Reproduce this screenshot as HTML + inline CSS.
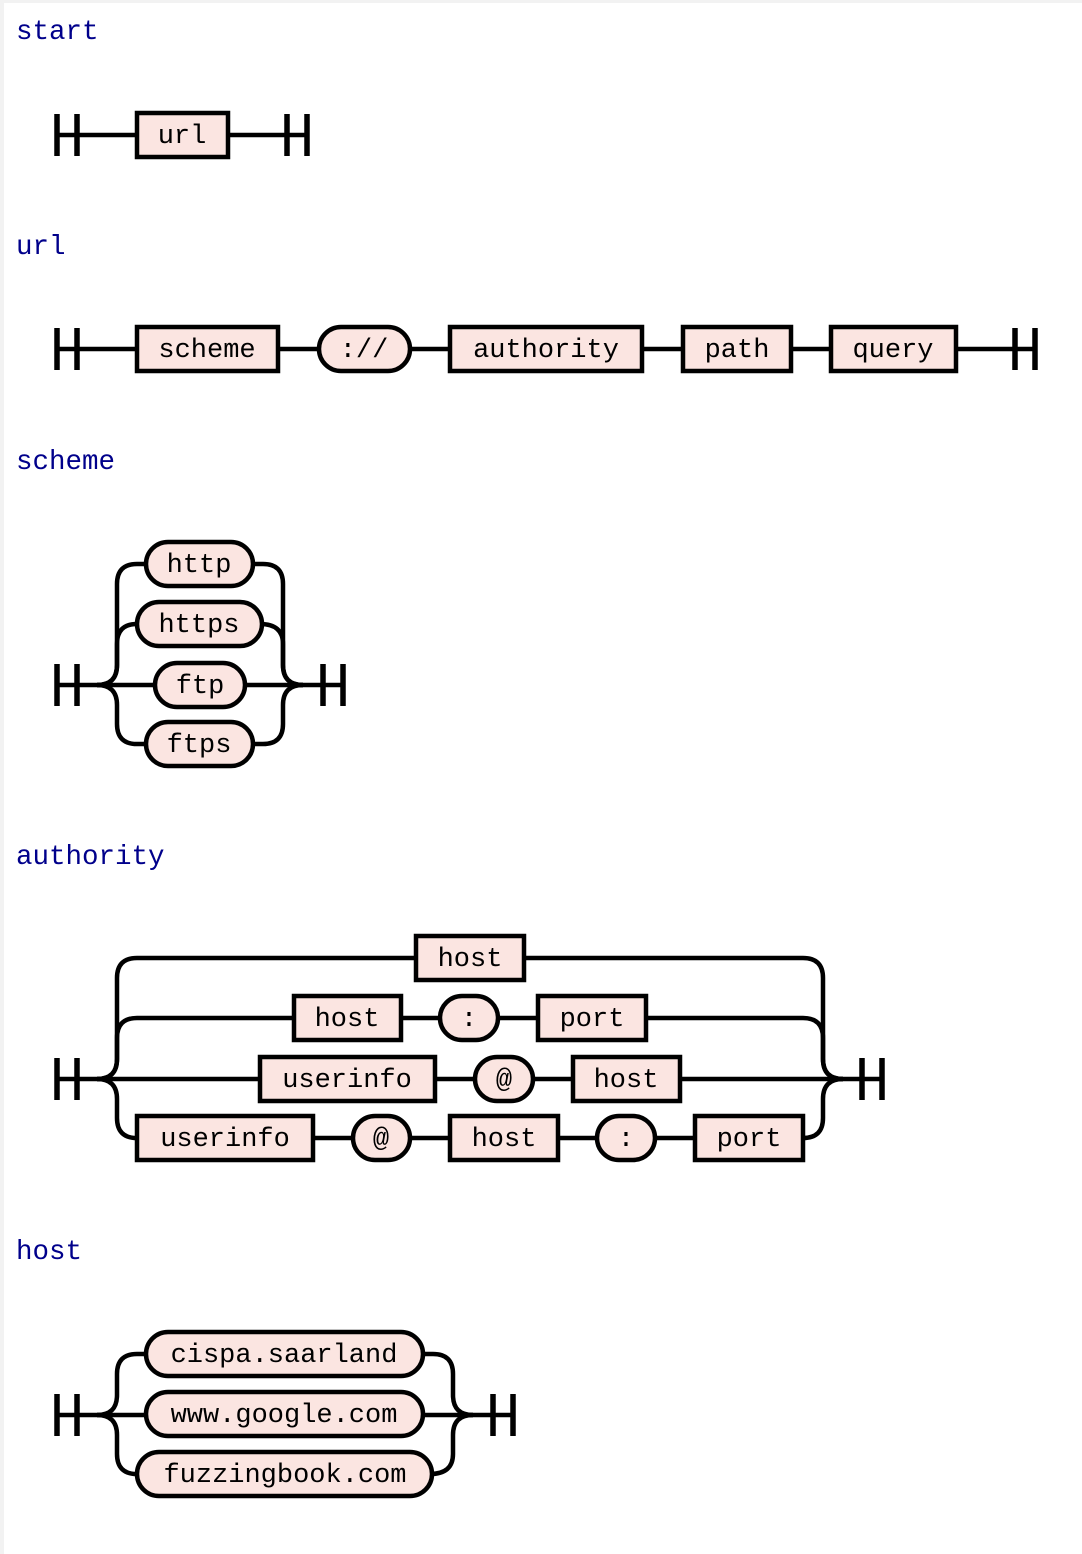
<!DOCTYPE html>
<html><head><meta charset="utf-8"><style>
html,body{margin:0;padding:0;background:#fff;}
body{width:1082px;height:1554px;overflow:hidden;}
svg{display:block;}
text{font-family:"Liberation Mono","DejaVu Sans Mono",monospace;font-size:27px;}
.t{fill:#000;text-anchor:middle;}
.h{fill:#00008b;font-size:27.5px;}
.l{fill:none;stroke:#000;stroke-width:4.5;}
.b{fill:#fbe5e1;stroke:#000;stroke-width:4.5;}
.bar{stroke:#000;stroke-width:5.5;}
</style></head><body>
<svg width="1082" height="1554" viewBox="0 0 1082 1554" xmlns="http://www.w3.org/2000/svg">
<rect x="0" y="0" width="1082" height="3" fill="#f2f2f2"/>
<rect x="0" y="0" width="4" height="1554" fill="#f2f2f2"/>

<!-- start -->
<text class="h" x="16" y="39">start</text>
<line class="bar" x1="57" y1="114" x2="57" y2="156"/><line class="bar" x1="77" y1="114" x2="77" y2="156"/>
<line class="l" x1="57" y1="135" x2="137" y2="135"/>
<line class="l" x1="228" y1="135" x2="309" y2="135"/>
<line class="bar" x1="287" y1="114" x2="287" y2="156"/><line class="bar" x1="307" y1="114" x2="307" y2="156"/>
<rect class="b" x="137" y="113" width="91" height="44"/><text class="t" x="182" y="143">url</text>

<!-- url -->
<text class="h" x="16" y="254">url</text>
<line class="bar" x1="57" y1="328" x2="57" y2="370"/><line class="bar" x1="77" y1="328" x2="77" y2="370"/>
<line class="bar" x1="1015" y1="328" x2="1015" y2="370"/><line class="bar" x1="1035" y1="328" x2="1035" y2="370"/>
<line class="l" x1="57" y1="349" x2="1037" y2="349"/>
<rect class="b" x="137" y="327" width="141" height="44"/><text class="t" x="207" y="357">scheme</text>
<rect class="b" x="319" y="327" width="91" height="44" rx="22"/><text class="t" x="364" y="357">://</text>
<rect class="b" x="450" y="327" width="192" height="44"/><text class="t" x="546" y="357">authority</text>
<rect class="b" x="683" y="327" width="108" height="44"/><text class="t" x="737" y="357">path</text>
<rect class="b" x="831" y="327" width="125" height="44"/><text class="t" x="893" y="357">query</text>

<!-- scheme -->
<text class="h" x="16" y="469">scheme</text>
<line class="bar" x1="57" y1="664" x2="57" y2="706"/><line class="bar" x1="77" y1="664" x2="77" y2="706"/>
<line class="bar" x1="323" y1="664" x2="323" y2="706"/><line class="bar" x1="343" y1="664" x2="343" y2="706"/>
<line class="l" x1="57" y1="685" x2="345" y2="685"/>
<path class="l" d="M97,685 Q117,685 117,665 V584 Q117,564 137,564 H150"/>
<path class="l" d="M97,685 Q117,685 117,665 V644 Q117,624 137,624 H140"/>
<path class="l" d="M97,685 Q117,685 117,705 V724 Q117,744 137,744 H150"/>
<path class="l" d="M250,564 H263 Q283,564 283,584 V665 Q283,685 303,685"/>
<path class="l" d="M260,624 Q283,624 283,644 V665 Q283,685 303,685"/>
<path class="l" d="M250,744 H263 Q283,744 283,724 V705 Q283,685 303,685"/>
<rect class="b" x="146" y="542" width="107" height="44" rx="22"/><text class="t" x="199" y="572">http</text>
<rect class="b" x="137" y="602" width="125" height="44" rx="22"/><text class="t" x="199" y="632">https</text>
<rect class="b" x="155" y="663" width="90" height="44" rx="22"/><text class="t" x="200" y="693">ftp</text>
<rect class="b" x="146" y="722" width="107" height="44" rx="22"/><text class="t" x="199" y="752">ftps</text>

<!-- authority -->
<text class="h" x="16" y="864">authority</text>
<line class="bar" x1="57" y1="1058" x2="57" y2="1100"/><line class="bar" x1="77" y1="1058" x2="77" y2="1100"/>
<line class="bar" x1="862" y1="1058" x2="862" y2="1100"/><line class="bar" x1="882" y1="1058" x2="882" y2="1100"/>
<line class="l" x1="57" y1="1079" x2="884" y2="1079"/>
<path class="l" d="M97,1079 Q117,1079 117,1059 V978 Q117,958 137,958 H803 Q823,958 823,978 V1059 Q823,1079 843,1079"/>
<path class="l" d="M97,1079 Q117,1079 117,1059 V1038 Q117,1018 137,1018 H803 Q823,1018 823,1038 V1059 Q823,1079 843,1079"/>
<path class="l" d="M97,1079 Q117,1079 117,1099 V1118 Q117,1138 137,1138 H803 Q823,1138 823,1118 V1099 Q823,1079 843,1079"/>
<rect class="b" x="416" y="936" width="108" height="44"/><text class="t" x="470" y="966">host</text>
<rect class="b" x="294" y="996" width="107" height="44"/><text class="t" x="347" y="1026">host</text>
<rect class="b" x="440" y="996" width="58" height="44" rx="22"/><text class="t" x="469" y="1026">:</text>
<rect class="b" x="538" y="996" width="108" height="44"/><text class="t" x="592" y="1026">port</text>
<rect class="b" x="260" y="1057" width="175" height="44"/><text class="t" x="347" y="1087">userinfo</text>
<rect class="b" x="475" y="1057" width="58" height="44" rx="22"/><text class="t" x="504" y="1087">@</text>
<rect class="b" x="573" y="1057" width="107" height="44"/><text class="t" x="626" y="1087">host</text>
<rect class="b" x="137" y="1116" width="176" height="44"/><text class="t" x="225" y="1146">userinfo</text>
<rect class="b" x="353" y="1116" width="57" height="44" rx="22"/><text class="t" x="381" y="1146">@</text>
<rect class="b" x="450" y="1116" width="108" height="44"/><text class="t" x="504" y="1146">host</text>
<rect class="b" x="597" y="1116" width="58" height="44" rx="22"/><text class="t" x="626" y="1146">:</text>
<rect class="b" x="695" y="1116" width="108" height="44"/><text class="t" x="749" y="1146">port</text>

<!-- host -->
<text class="h" x="16" y="1259">host</text>
<line class="bar" x1="57" y1="1394" x2="57" y2="1436"/><line class="bar" x1="77" y1="1394" x2="77" y2="1436"/>
<line class="bar" x1="493" y1="1394" x2="493" y2="1436"/><line class="bar" x1="513" y1="1394" x2="513" y2="1436"/>
<line class="l" x1="57" y1="1415" x2="515" y2="1415"/>
<path class="l" d="M97,1415 Q117,1415 117,1395 V1374 Q117,1354 137,1354 H150"/>
<path class="l" d="M97,1415 Q117,1415 117,1435 V1454 Q117,1474 137,1474 H140"/>
<path class="l" d="M420,1354 H433 Q453,1354 453,1374 V1395 Q453,1415 473,1415"/>
<path class="l" d="M430,1474 Q453,1474 453,1454 V1435 Q453,1415 473,1415"/>
<rect class="b" x="146" y="1332" width="277" height="44" rx="22"/><text class="t" x="284" y="1362">cispa.saarland</text>
<rect class="b" x="146" y="1392" width="277" height="44" rx="22"/><text class="t" x="284" y="1422">www.google.com</text>
<rect class="b" x="137" y="1452" width="295" height="44" rx="22"/><text class="t" x="285" y="1482">fuzzingbook.com</text>
</svg>
</body></html>
